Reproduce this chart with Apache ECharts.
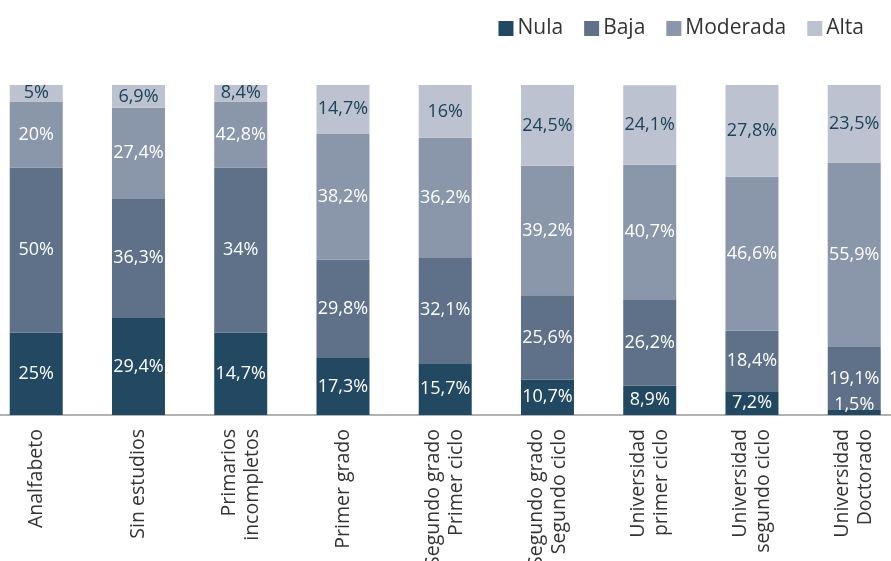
<!DOCTYPE html>
<html>
<head>
<meta charset="utf-8">
<script src="https://cdn.jsdelivr.net/npm/echarts@6/dist/echarts.min.js"></script>
<style>
html,body{margin:0;padding:0;background:#fff;overflow:hidden;}
#chart{width:891px;height:561px;}
</style>
</head>
<body>
<div id="chart"></div>
<script>
// Categories (x axis)
const categories = [
  'Analfabeto',
  'Sin estudios',
  'Primarios\nincompletos',
  'Primer grado',
  'Segundo grado\nPrimer ciclo',
  'Segundo grado\nSegundo ciclo',
  'Universidad\nprimer ciclo',
  'Universidad\nsegundo ciclo',
  'Universidad\nDoctorado'
];
const seriesNames = ['Nula', 'Baja', 'Moderada', 'Alta'];

// Segment heights as drawn in the picture (percent)
const nula     = [25, 29.4, 25, 17.3, 15.7, 10.7, 8.9, 7.2, 1.5];
const baja     = [50, 36.3, 50, 29.8, 32.1, 25.6, 26.2, 18.4, 19.1];
const moderada = [20, 27.4, 20, 38.2, 36.2, 39.2, 40.7, 46.6, 55.9];
const alta     = [5, 6.9, 5, 14.7, 16, 24.5, 24.1, 27.8, 23.5];

// Label texts printed on the segments
const nulaLabels     = ['25%', '29,4%', '14,7%', '17,3%', '15,7%', '10,7%', '8,9%', '7,2%', '1,5%'];
const bajaLabels     = ['50%', '36,3%', '34%', '29,8%', '32,1%', '25,6%', '26,2%', '18,4%', '19,1%'];
const moderadaLabels = ['20%', '27,4%', '42,8%', '38,2%', '36,2%', '39,2%', '40,7%', '46,6%', '55,9%'];
const altaLabels     = ['5%', '6,9%', '8,4%', '14,7%', '16%', '24,5%', '24,1%', '27,8%', '23,5%'];

const colors = ['#224862', '#5e7189', '#8a96a9', '#bcc2d0'];
const labelColors = ['#ffffff', '#ffffff', '#ffffff', '#1d4259'];
const values = [nula, baja, moderada, alta];
const labels = [nulaLabels, bajaLabels, moderadaLabels, altaLabels];

const FONT = 'Open Sans';
const chart = echarts.init(document.getElementById('chart'), null, {renderer: 'canvas'});

const series = seriesNames.map((name, si) => ({
  name: name,
  type: 'bar',
  stack: 'total',
  barWidth: 53,
  itemStyle: {color: colors[si]},
  label: {
    show: true,
    position: 'inside',
    color: labelColors[si],
    fontFamily: FONT,
    fontSize: 18,
    formatter: p => labels[si][p.dataIndex]
  },
  emphasis: {disabled: true},
  // very thin segments get their label lifted above the axis line
  data: values[si].map(v => v < 3 ? {value: v, label: {offset: [0, -8]}} : v)
}));

chart.setOption({
  animation: false,
  color: colors,
  textStyle: {fontFamily: FONT},
  legend: {
    data: seriesNames,
    right: 22,
    top: 13,
    icon: 'rect',
    itemWidth: 15,
    itemHeight: 15,
    itemGap: 21,
    textStyle: {fontFamily: FONT, fontSize: 21, color: '#333', padding: [0, 0, 0, -1]}
  },
  grid: {left: -14.9, top: 85, width: 920.25, bottom: 146, containLabel: false, outerBoundsMode: 'none'},
  xAxis: {
    type: 'category',
    data: categories,
    axisLine: {show: true, lineStyle: {color: '#999', width: 1.5}},
    axisTick: {show: false},
    axisLabel: {
      rotate: 90,
      interval: 0,
      margin: 14,
      color: '#333',
      fontFamily: FONT,
      fontSize: 19.5,
      lineHeight: 23
    }
  },
  yAxis: {
    type: 'value',
    min: 0,
    max: 100,
    show: false,
    splitLine: {show: false}
  },
  series: series
});
</script>
</body>
</html>
